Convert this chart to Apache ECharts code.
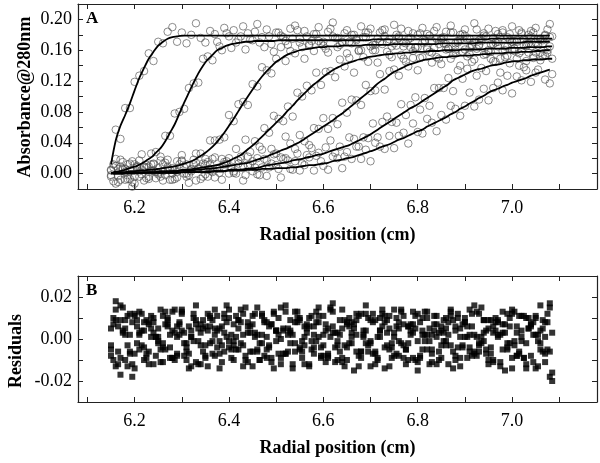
<!DOCTYPE html>
<html>
<head>
<meta charset="utf-8">
<script src="https://cdn.jsdelivr.net/npm/echarts@6/dist/echarts.min.js"></script>
<style>
  html, body { margin: 0; padding: 0; background: #fff; }
  #chart { width: 600px; height: 463px; }
</style>
</head>
<body>
<div id="chart"></div>
<script>
// radial positions (cm) of the sampled points, odd scans
const radiusA = [
  6.15, 6.16, 6.17, 6.18, 6.19, 6.20, 6.21, 6.22, 6.23, 6.24,
  6.25, 6.26, 6.27, 6.28, 6.29, 6.30, 6.31, 6.32, 6.33, 6.34,
  6.35, 6.36, 6.37, 6.38, 6.39, 6.40, 6.41, 6.42, 6.43, 6.44,
  6.45, 6.46, 6.47, 6.48, 6.49, 6.50, 6.51, 6.52, 6.53, 6.54,
  6.55, 6.56, 6.57, 6.58, 6.59, 6.60, 6.61, 6.62, 6.63, 6.64,
  6.65, 6.66, 6.67, 6.68, 6.69, 6.70, 6.71, 6.72, 6.73, 6.74,
  6.75, 6.76, 6.77, 6.78, 6.79, 6.80, 6.81, 6.82, 6.83, 6.84,
  6.85, 6.86, 6.87, 6.88, 6.89, 6.90, 6.91, 6.92, 6.93, 6.94,
  6.95, 6.96, 6.97, 6.98, 6.99, 7.00, 7.01, 7.02, 7.03, 7.04,
  7.05, 7.06, 7.07, 7.08
]
// radial positions (cm) of the sampled points, even scans
const radiusB = [
  6.155, 6.165, 6.175, 6.185, 6.195, 6.205, 6.215, 6.225, 6.235, 6.245,
  6.255, 6.265, 6.275, 6.285, 6.295, 6.305, 6.315, 6.325, 6.335, 6.345,
  6.355, 6.365, 6.375, 6.385, 6.395, 6.405, 6.415, 6.425, 6.435, 6.445,
  6.455, 6.465, 6.475, 6.485, 6.495, 6.505, 6.515, 6.525, 6.535, 6.545,
  6.555, 6.565, 6.575, 6.585, 6.595, 6.605, 6.615, 6.625, 6.635, 6.645,
  6.655, 6.665, 6.675, 6.685, 6.695, 6.705, 6.715, 6.725, 6.735, 6.745,
  6.755, 6.765, 6.775, 6.785, 6.795, 6.805, 6.815, 6.825, 6.835, 6.845,
  6.855, 6.865, 6.875, 6.885, 6.895, 6.905, 6.915, 6.925, 6.935, 6.945,
  6.955, 6.965, 6.975, 6.985, 6.995, 7.005, 7.015, 7.025, 7.035, 7.045,
  7.055, 7.065, 7.075, 7.085
]

// fitted boundaries, absorbance in milli-units (x 0.001)
const fit1 = [
  12, 43, 62, 76, 91, 108, 124, 137, 149, 158,
  166, 171, 175, 177, 178, 179, 179, 179, 179, 179,
  179, 179, 179, 179, 179, 179, 179, 179, 179, 179,
  179, 179, 179, 179, 179, 179, 179, 179, 179, 179,
  179, 179, 179, 179, 179, 179, 179, 179, 179, 179,
  179, 179, 179, 179, 179, 179, 179, 179, 179, 179,
  179, 179, 179, 179, 179, 179, 179, 179, 179, 179,
  179, 179, 179, 179, 179, 179, 179, 179, 179, 179,
  179, 179, 179, 179, 179, 179, 179, 179, 179, 179,
  179, 179, 179, 179
]
const fit2 = [
  2, 3, 4, 6, 8, 10, 13, 17, 21, 27,
  33, 42, 53, 64, 78, 92, 105, 118, 130, 140,
  148, 154, 160, 163, 166, 168, 169, 170, 171, 171,
  172, 172, 172, 172, 172, 173, 173, 173, 173, 173,
  173, 173, 173, 173, 173, 173, 173, 173, 173, 173,
  173, 173, 173, 173, 173, 174, 174, 174, 174, 174,
  174, 174, 174, 174, 174, 174, 174, 174, 174, 174,
  174, 174, 174, 174, 174, 174, 174, 174, 174, 174,
  175, 175, 175, 175, 175, 175, 175, 175, 175, 175,
  175, 175, 175, 175
]
const fit3 = [
  1, 1, 2, 2, 3, 3, 4, 4, 5, 5,
  6, 7, 8, 9, 10, 12, 14, 16, 19, 23,
  27, 32, 38, 45, 53, 62, 71, 81, 91, 100,
  109, 118, 126, 133, 139, 145, 149, 153, 156, 158,
  160, 161, 162, 163, 164, 164, 165, 165, 165, 166,
  166, 166, 166, 166, 167, 167, 167, 167, 167, 167,
  168, 168, 168, 168, 168, 168, 168, 168, 168, 168,
  169, 169, 169, 169, 169, 169, 169, 169, 170, 170,
  170, 170, 170, 170, 170, 170, 170, 170, 171, 171,
  171, 171, 171, 171
]
const fit4 = [
  1, 1, 1, 1, 1, 2, 2, 2, 2, 2,
  3, 3, 3, 3, 4, 5, 5, 6, 7, 8,
  9, 10, 11, 13, 15, 18, 21, 24, 29, 34,
  39, 45, 51, 57, 63, 69, 75, 82, 88, 95,
  101, 107, 113, 118, 123, 128, 132, 136, 139, 142,
  144, 146, 148, 149, 151, 152, 153, 154, 155, 155,
  156, 156, 157, 157, 158, 158, 158, 159, 159, 159,
  160, 160, 160, 160, 161, 161, 161, 161, 161, 162,
  162, 162, 162, 162, 163, 163, 163, 163, 164, 164,
  164, 164, 165, 165
]
const fit5 = [
  1, 1, 1, 1, 1, 1, 1, 1, 2, 2,
  2, 2, 2, 3, 3, 4, 4, 4, 5, 5,
  6, 6, 7, 8, 9, 10, 11, 12, 13, 14,
  16, 18, 20, 22, 25, 27, 30, 32, 35, 38,
  41, 45, 49, 53, 57, 61, 65, 69, 74, 78,
  83, 88, 93, 98, 103, 108, 114, 119, 123, 128,
  132, 135, 138, 141, 143, 145, 147, 148, 149, 150,
  151, 151, 152, 152, 153, 153, 153, 154, 154, 155,
  155, 156, 156, 156, 157, 157, 157, 158, 158, 158,
  159, 159, 160, 160
]
const fit6 = [
  0, 0, 0, 1, 1, 1, 1, 1, 1, 1,
  1, 1, 1, 1, 1, 2, 2, 2, 2, 2,
  3, 3, 3, 3, 4, 5, 5, 5, 6, 6,
  7, 8, 10, 11, 12, 13, 14, 15, 17, 18,
  19, 21, 22, 24, 25, 27, 29, 31, 33, 35,
  37, 40, 43, 46, 49, 53, 57, 61, 65, 69,
  73, 77, 81, 85, 88, 92, 96, 100, 104, 108,
  112, 116, 121, 124, 127, 130, 133, 135, 136, 138,
  140, 141, 142, 144, 145, 146, 146, 147, 147, 148,
  148, 148, 149, 149
]
const fit7 = [
  0, 0, 0, 0, 0, 0, 1, 1, 1, 1,
  1, 1, 1, 1, 1, 2, 2, 2, 2, 2,
  2, 2, 3, 3, 3, 4, 4, 4, 4, 5,
  5, 5, 6, 6, 6, 7, 7, 7, 8, 8,
  9, 10, 11, 11, 12, 13, 14, 16, 17, 18,
  20, 21, 23, 25, 27, 29, 31, 34, 36, 38,
  41, 44, 46, 49, 52, 55, 57, 61, 64, 67,
  70, 73, 77, 80, 84, 87, 91, 94, 98, 101,
  105, 108, 110, 113, 115, 118, 120, 122, 124, 127,
  129, 131, 133, 135
]

// residuals of each scan, milli-units
const res1 = [
  -8, 14, -17, 9, -6, 11, 3, -4, 7, -12,
  5, -2, 9, 13, -7, 4, -10, 1, 16, -3,
  -9, 6, 2, -14, 10, -1, 7, -5, 12, 3,
  -6, 15, -2, 8, -11, 4, 0, -7, 9, 13,
  -4, 6, -13, 2, 11, -8, 5, 17, -3, -9,
  7, 1, -6, 12, -2, 9, -12, 4, 8, -5,
  14, -1, -9, 6, 3, -15, 10, 2, -7, 11,
  -3, 5, 13, -10, 1, 8, -4, 16, -6, 3,
  9, -11, 2, 7, -2, 12, -8, 4, -14, 6,
  10, -5, 1, 15
]
const res2 = [
  10, -6, 3, -13, 8, -2, 12, -9, 5, 1,
  -11, 7, -4, 14, 2, -8, 6, -1, -12, 9,
  4, -7, 11, -3, 16, -5, 1, 8, -10, 3,
  12, -2, -8, 6, -14, 10, 4, -6, 2, 13,
  -9, 5, -1, 8, -4, -11, 15, 3, -6, 9,
  -2, 7, -13, 4, 10, -7, 1, 12, -3, -9,
  6, 14, -5, 2, -10, 8, -1, 5, 11, -6,
  3, -12, 9, -4, 7, 1, -8, 13, -2, 4,
  -7, 10, 2, -15, 6, -3, 11, -9, 5, 8,
  -1, -6, 12, 3
]
const res3 = [
  -5, 9, 16, -10, 2, -7, 13, 4, -12, 8,
  1, -4, 10, -9, 6, 12, -2, -13, 7, 3,
  -8, 11, 5, -1, -6, 14, -3, 9, 2, -11,
  7, -5, 12, 1, -9, 4, 15, -7, 3, -2,
  10, -12, 6, -4, 8, 2, -8, 13, -1, 5,
  -10, 3, 9, -6, 16, -2, -7, 4, 11, -13,
  1, 8, -3, 6, -9, 12, 2, -5, -11, 7,
  4, -1, 14, -8, 5, 10, -6, 2, -3, 9,
  -12, 6, 1, 13, -5, -9, 3, 11, -2, 7,
  -14, 4, 8, -6
]
const res4 = [
  7, -12, 4, 11, -18, 6, -3, 9, 1, -8,
  14, -5, 2, -10, 8, 3, -7, 12, -1, 5,
  -13, 9, -4, 6, 1, -9, 11, -2, 15, -6,
  3, -10, 8, -4, 12, 2, -7, 5, -14, 10,
  -1, 7, -5, 13, -8, 4, 1, -11, 9, -3,
  6, -15, 11, 2, -6, 8, -9, 14, 3, -4,
  10, -2, -12, 7, 5, -8, 13, -1, 4, -10,
  9, 2, -6, 12, -3, -9, 6, 1, 15, -7,
  -4, 8, -13, 3, 10, -1, -7, 11, 5, -11,
  2, 9, -5, -16
]
const res5 = [
  -3, 18, -9, 5, 12, -14, 2, 8, -6, 10,
  -1, -11, 7, 4, -8, 13, -4, 1, 9, -12,
  6, -2, 14, -7, 3, 10, -10, 5, -3, 8,
  -13, 2, 11, -5, 7, -1, -9, 16, 4, -6,
  9, -3, -12, 6, 1, 11, -7, 3, -10, 14,
  -4, 8, 2, -9, 12, -1, -6, 10, -14, 5,
  3, -8, 11, -2, 7, -11, 4, 13, -5, 1,
  -9, 10, -3, 6, -13, 8, 2, -6, 12, -1,
  5, -10, 9, 3, -4, 14, -8, 1, -12, 7,
  11, -2, -7, 17
]
const res6 = [
  -10, 6, 15, -3, -12, 9, 4, -7, 11, 1,
  -5, 13, -9, 3, 7, -2, -14, 10, 5, -6,
  12, -1, 4, -11, 8, 2, -5, 14, -8, 6,
  1, -10, 9, -3, 13, -7, 5, 2, -12, 8,
  -6, 3, 11, -1, -9, 7, 14, -4, 2, -13,
  10, 5, -8, 1, -3, 12, -10, 6, 9, -2,
  -7, 13, -5, 4, 11, -9, 2, -12, 7, 3,
  -1, 8, -14, 10, -4, 6, 12, -8, 1, -5,
  9, 4, -11, 7, -2, 13, -6, -9, 10, 2,
  -13, 5, 8, -20
]
const res7 = [
  5, -13, 9, 2, -7, 12, -5, -10, 8, 3,
  -2, 11, 6, -9, 1, 14, -6, 4, -11, 7,
  -3, 10, -8, 5, 12, -4, -1, 9, -13, 6,
  11, -6, 2, -9, 7, 4, -12, 13, -2, 8,
  -5, 1, 10, -7, 15, -3, -9, 6, 3, -11,
  8, -2, 12, -6, 4, -13, 9, 1, -4, 11,
  -8, 5, 7, -10, 13, -1, -5, 10, 2, -12,
  6, -3, 11, 4, -9, 1, 14, -7, -2, 9,
  -10, 3, 8, -5, 12, -14, 6, -1, 10, -8,
  2, 16, -11, -18
]

// axis ticks and labels
const xTicks = [6.1, 6.2, 6.3, 6.4, 6.5, 6.6, 6.7, 6.8, 6.9, 7.0, 7.1]
const xLabels = [6.2, 6.4, 6.6, 6.8, 7.0]
const absTicks = [0, 0.02, 0.04, 0.06, 0.08, 0.10, 0.12, 0.14, 0.16, 0.18, 0.20]
const absLabels = [0, 0.04, 0.08, 0.12, 0.16, 0.20]
const resTicks = [-0.02, -0.01, 0, 0.01, 0.02]
const resLabels = [-0.02, 0, 0.02]

const fits = [fit1, fit2, fit3, fit4, fit5, fit6, fit7]
const resids = [res1, res2, res3, res4, res5, res6, res7]
const radii = [radiusA, radiusB, radiusA, radiusB, radiusA, radiusB, radiusA]

const serif = 'Liberation Serif'
const frame = { show: true, onZero: false, lineStyle: { color: '#222', width: 1.2 } }

function xAxis(gridIndex, position, showLabels, name) {
  return {
    type: 'value', gridIndex, position, min: 6.08, max: 7.18,
    axisLine: frame,
    axisTick: { show: true, inside: true, length: 5, customValues: xTicks, lineStyle: { color: '#222' } },
    axisLabel: {
      show: showLabels, customValues: xLabels, margin: 10,
      formatter: v => v.toFixed(1),
      fontFamily: serif, fontSize: 18, color: '#000'
    },
    splitLine: { show: false },
    name: name || '', nameLocation: 'middle', nameGap: 37,
    nameTextStyle: { fontFamily: serif, fontSize: 18, fontWeight: 'bold', color: '#000' }
  }
}

function yAxis(gridIndex, position, min, max, ticks, labels, showLabels) {
  return {
    type: 'value', gridIndex, position, min, max,
    axisLine: frame,
    axisTick: { show: true, inside: true, length: 5, customValues: ticks, lineStyle: { color: '#222' } },
    axisLabel: {
      show: showLabels, customValues: labels, margin: 6,
      formatter: v => v.toFixed(2),
      fontFamily: serif, fontSize: 18, color: '#000'
    },
    splitLine: { show: false }
  }
}

const series = []

fits.forEach((fit, k) => {
  const res = resids[k]
  const radius = radii[k]
  series.push({
    type: 'scatter', xAxisIndex: 0, yAxisIndex: 0, silent: true,
    symbol: 'circle', symbolSize: 7.5,
    itemStyle: { color: 'rgba(0,0,0,0)', borderColor: '#4a4a4a', borderWidth: 0.8 },
    data: radius.map((r, i) => [r, (fit[i] + res[i]) / 1000])
  })
})

fits.forEach((fit, k) => {
  const radius = radii[k]
  series.push({
    type: 'line', xAxisIndex: 0, yAxisIndex: 0, silent: true,
    symbol: 'none', smooth: 0.3,
    lineStyle: { color: '#000', width: 1.8 },
    data: radius.map((r, i) => [r, fit[i] / 1000])
  })
})

resids.forEach((res, k) => {
  const radius = radii[k]
  series.push({
    type: 'scatter', xAxisIndex: 2, yAxisIndex: 2, silent: true,
    symbol: 'rect', symbolSize: 6,
    itemStyle: { color: '#000' },
    data: radius.map((r, i) => [r, res[i] / 1000])
  })
})

const chart = echarts.init(document.getElementById('chart'))
chart.setOption({
  animation: false,
  backgroundColor: '#fff',
  grid: [
    { left: 78, top: 4, width: 519, height: 185 },
    { left: 78, top: 276, width: 519, height: 126 }
  ],
  xAxis: [
    xAxis(0, 'bottom', true, 'Radial position (cm)'),
    xAxis(0, 'top', false),
    xAxis(1, 'bottom', true, 'Radial position (cm)'),
    xAxis(1, 'top', false)
  ],
  yAxis: [
    yAxis(0, 'left', -0.02, 0.22, absTicks, absLabels, true),
    yAxis(0, 'right', -0.02, 0.22, absTicks, absLabels, false),
    yAxis(1, 'left', -0.03, 0.03, resTicks, resLabels, true),
    yAxis(1, 'right', -0.03, 0.03, resTicks, resLabels, false)
  ],
  graphic: [
    {
      type: 'text', x: 25, y: 97, rotation: Math.PI / 2, silent: true,
      style: {
        text: 'Absorbance@280nm', fill: '#000',
        font: 'bold 18px "Liberation Serif"',
        align: 'center', verticalAlign: 'middle', textAlign: 'center', textVerticalAlign: 'middle'
      }
    },
    {
      type: 'text', x: 16, y: 351, rotation: Math.PI / 2, silent: true,
      style: {
        text: 'Residuals', fill: '#000',
        font: 'bold 18px "Liberation Serif"',
        align: 'center', verticalAlign: 'middle', textAlign: 'center', textVerticalAlign: 'middle'
      }
    },
    {
      type: 'text', x: 86, y: 19, silent: true,
      style: { text: 'A', fill: '#000', font: 'bold 17px "Liberation Serif"', verticalAlign: 'middle', textVerticalAlign: 'middle' }
    },
    {
      type: 'text', x: 86, y: 291, silent: true,
      style: { text: 'B', fill: '#000', font: 'bold 17px "Liberation Serif"', verticalAlign: 'middle', textVerticalAlign: 'middle' }
    }
  ],
  series
})
</script>
</body>
</html>
